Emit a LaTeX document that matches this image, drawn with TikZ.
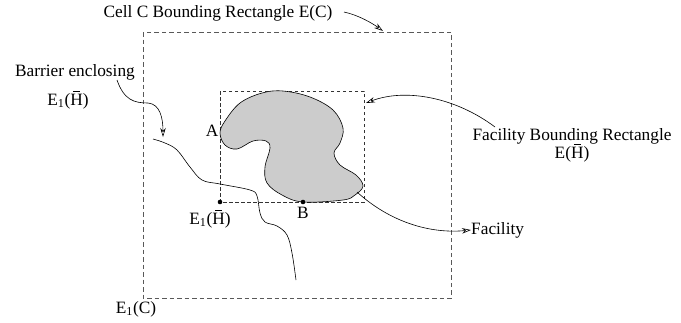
\documentclass[tikz,border=0pt]{standalone}
\usepackage{fontspec}
\setmainfont{Liberation Serif}
\usetikzlibrary{arrows.meta}
\newcommand{\barH}{\makebox[0pt][l]{\hspace{0.16em}\raisebox{0.78em}{\rule{0.4em}{0.055em}}}H}
\begin{document}
\begin{tikzpicture}[x=1pt,y=-1pt,
  lbl/.style={font=\fontsize{17.3}{19}\selectfont, inner sep=0pt},
  arr/.style={-{Stealth[open,length=9pt,width=5.5pt]}, line width=0.6pt},
  outerbox/.style={draw=black!65, line width=0.8pt, dash pattern=on 4.5pt off 3pt},
  innerbox/.style={draw=black!80, line width=0.7pt, dash pattern=on 3.5pt off 2.5pt},
  facshape/.style={draw=black, fill=black!20, line width=0.6pt},
  barrier/.style={draw=black, line width=0.6pt},
  dotfill/.style={fill=black}]
\useasboundingbox (0,0) rectangle (681,322);
% rectangles
\draw[outerbox] (143,32) rectangle (451,298);
\draw[innerbox] (220,91) rectangle (364,202);
% facility
\path[facshape] plot[smooth cycle, tension=0.6] coordinates {
  (220,133) (225,121) (240,103) (262,93) (283,91) (310,97) (333,110)
  (343,128) (340,143) (334,153) (340,165) (356,175) (363,186) (355,195)
  (343,200) (303,202) (282,195) (267,183) (265,167) (270,148) (266,141)
  (253,141) (237,149) (225,145)};
% barrier
\path[barrier] plot[smooth, tension=0.6] coordinates {
  (153,139) (165,143) (177,150) (190,167) (202,180) (220,184) (250,190)
  (257,196) (260,213) (265,222) (277,226) (287,235) (292,253) (296,280)};
% points
\coordinate (e1h) at (220,202);
\coordinate (bpt) at (303,202);
\coordinate (apt) at (220,133);
\fill[dotfill] (e1h) circle (2.3pt);
\fill[dotfill] (bpt) circle (2.3pt);
% labels
\node[lbl] (cell) at (218,13) {Cell C Bounding Rectangle E(C)};
\node[lbl] (bar1) at (75,72) {Barrier enclosing};
\node[lbl] (bar2) at (68,100) {E\textsubscript{1}(\barH)};
\node[lbl] (fbr1) at (572,136) {Facility Bounding Rectangle};
\node[lbl] (fbr2) at (572,153) {E(\barH)};
\node[lbl, anchor=west] (fac) at (471,230) {Facility};
\node[lbl] (alab) at (212,131) {A};
\node[lbl] (blab) at (303,213) {B};
\node[lbl] (e1hlab) at (210,219) {E\textsubscript{1}(\barH)};
\node[lbl] (e1c) at (136,309) {E\textsubscript{1}(C)};
% arrows
\coordinate (barS) at (117,80);
\coordinate (barT) at (163,137);
\draw[arr] (barS) .. controls (124,100) and (134,103) .. (148,103)
  .. controls (160,104) and (163,118) .. (barT);
\coordinate (cellS) at (344,12);
\coordinate (cellT) at (383,31);
\draw[arr] (cellS) .. controls (358,15) and (372,23) .. (cellT);
\coordinate (fbrS) at (495,127);
\coordinate (fbrT) at (366,103);
\draw[arr] (fbrS) .. controls (455,97) and (405,88) .. (fbrT);
\coordinate (facS) at (357,192);
\draw[arr] (facS) .. controls (390,222) and (430,234) .. (fac.west);
\end{tikzpicture}
\end{document}
